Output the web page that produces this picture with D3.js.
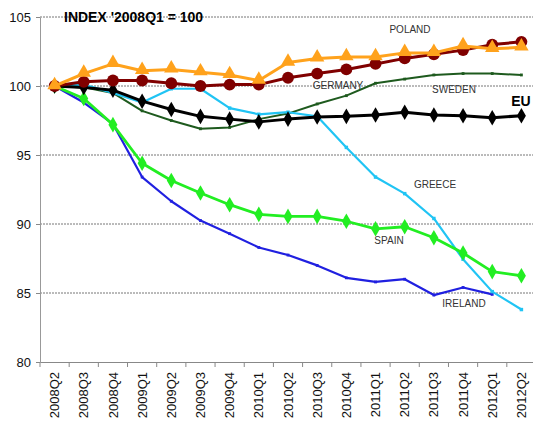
<!DOCTYPE html>
<html>
<head>
<meta charset="utf-8">
<script src="https://cdn.jsdelivr.net/npm/d3@7"></script>
<style>
  body { margin: 0; background: #fff; }
  text { font-family: Arial, "Liberation Sans", sans-serif; }
</style>
</head>
<body>
<svg id="chart" width="533" height="422"></svg>
<script>
// quarters on the x axis
var quarters = ["2008Q2","2008Q3","2008Q4","2009Q1","2009Q2","2009Q3","2009Q4","2010Q1",
  "2010Q2","2010Q3","2010Q4","2011Q1","2011Q2","2011Q3","2011Q4","2012Q1","2012Q2"];
var yTicks = [80, 85, 90, 95, 100, 105];

// index values, 2008Q1 = 100
var poland  = [100, 100.9, 101.6, 101.1, 101.2, 101.0, 100.8, 100.4, 101.7, 102.0, 102.1, 102.1, 102.4, 102.4, 102.9, 102.7, 102.8];
var germany = [100, 100.3, 100.4, 100.4, 100.2, 100.0, 100.1, 100.1, 100.6, 100.9, 101.2, 101.6, 102.0, 102.3, 102.6, 103.0, 103.2];
var sweden  = [100, 99.9, 99.5, 98.2, 97.5, 96.9, 97.0, 97.6, 98.0, 98.7, 99.3, 100.2, 100.5, 100.8, 100.9, 100.9, 100.8];
var eu      = [100, 99.9, 99.7, 98.9, 98.3, 97.8, 97.6, 97.4, 97.6, 97.75, 97.8, 97.9, 98.1, 97.9, 97.85, 97.7, 97.85];
var greece  = [100, 100.1, 99.5, 98.8, 99.8, 99.8, 98.4, 97.95, 98.1, 97.8, 95.55, 93.4, 92.2, 90.4, 87.45, 85.1, 83.8];
var spain   = [100, 99.1, 97.2, 94.4, 93.15, 92.25, 91.4, 90.7, 90.55, 90.55, 90.2, 89.65, 89.8, 89.0, 87.9, 86.55, 86.25];
var ireland = [100, 98.8, 97.25, 93.4, 91.65, 90.25, 89.3, 88.3, 87.75, 87.0, 86.1, 85.8, 86.0, 84.85, 85.4, 84.9, null];

var series = [
  { name: "sweden",  values: sweden,  color: "#1e5a1e", width: 2,   marker: "dash" },
  { name: "ireland", values: ireland, color: "#2020e0", width: 2.2, marker: "dash" },
  { name: "greece",  values: greece,  color: "#20c4f4", width: 2.2, marker: "square" },
  { name: "spain",   values: spain,   color: "#22ee22", width: 2.8, marker: "diamond" },
  { name: "eu",      values: eu,      color: "#000000", width: 3,   marker: "diamond" },
  { name: "germany", values: germany, color: "#800000", width: 3,   marker: "circle" },
  { name: "poland",  values: poland,  color: "#ffa21c", width: 3,   marker: "triangle" }
];

var labels = [
  { text: "POLAND",  x: 410, y: 33 },
  { text: "GERMANY", x: 338, y: 89 },
  { text: "SWEDEN",  x: 454, y: 93 },
  { text: "GREECE",  x: 435, y: 188 },
  { text: "SPAIN",   x: 389, y: 244 },
  { text: "IRELAND", x: 464, y: 307 }
];

var svg = d3.select("#chart");
var margin = { top: 17, left: 40 },
    w = 496, h = 345;

var x = d3.scaleBand().domain(quarters).range([margin.left, margin.left + w]);
var y = d3.scaleLinear().domain([80, 105]).range([margin.top + h, margin.top]);

// grid lines
svg.append("g").selectAll("line")
  .data(yTicks.filter(function(d) { return d > 80; }))
  .enter().append("line")
  .attr("x1", margin.left).attr("x2", margin.left + w)
  .attr("y1", function(d) { return y(d); }).attr("y2", function(d) { return y(d); })
  .attr("stroke", "#777").attr("stroke-width", 1).attr("stroke-dasharray", "2,1");

// y axis
var yAxis = svg.append("g")
  .attr("transform", "translate(" + margin.left + ",0)")
  .call(d3.axisLeft(y).tickValues(yTicks).tickSize(4).tickSizeOuter(0).tickPadding(5));
yAxis.select(".domain").attr("stroke", "#999");
yAxis.selectAll(".tick line").attr("stroke", "#888");
yAxis.selectAll("text").attr("font-size", 13).attr("fill", "#111");

// x axis
var xAxis = svg.append("g")
  .attr("transform", "translate(0," + (margin.top + h) + ")")
  .call(d3.axisBottom(x).tickSize(0).tickSizeOuter(0));
xAxis.select(".domain").attr("stroke", "#888");
xAxis.selectAll("text")
  .attr("font-size", 13).attr("fill", "#111")
  .attr("transform", "rotate(-90)")
  .attr("text-anchor", "end")
  .attr("x", -10).attr("y", 0).attr("dy", "0.35em");
xAxis.selectAll(".sep")
  .data(quarters.concat([null]))
  .enter().append("line")
  .attr("class", "sep")
  .attr("x1", function(d, i) { return margin.left + i * x.bandwidth(); })
  .attr("x2", function(d, i) { return margin.left + i * x.bandwidth(); })
  .attr("y1", 0).attr("y2", 5)
  .attr("stroke", "#888");

var line = d3.line()
  .defined(function(d) { return d != null; })
  .x(function(d, i) { return x(quarters[i]) + x.bandwidth() / 2; })
  .y(function(d) { return y(d); });

var symbols = {
  triangle: d3.symbol().type(d3.symbolTriangle).size(90),
  circle: d3.symbol().type(d3.symbolCircle).size(110),
  diamond: d3.symbol().type(d3.symbolDiamond).size(70),
  square: d3.symbol().type(d3.symbolSquare).size(12),
  dash: d3.symbol().type(d3.symbolSquare).size(8)
};

series.forEach(function(s) {
  var g = svg.append("g");
  g.append("path")
    .attr("d", line(s.values))
    .attr("fill", "none")
    .attr("stroke", s.color)
    .attr("stroke-width", s.width)
    .attr("stroke-linejoin", "round");
  g.selectAll("path.pt")
    .data(s.values.map(function(v, i) { return { v: v, i: i }; }).filter(function(d) { return d.v != null; }))
    .enter().append("path")
    .attr("class", "pt")
    .attr("d", symbols[s.marker]())
    .attr("transform", function(d) {
      var dy = s.marker === "triangle" ? -1 : 0;
      return "translate(" + (x(quarters[d.i]) + x.bandwidth() / 2) + "," + (y(d.v) + dy) + ")";
    })
    .attr("fill", s.color);
});

// labels
svg.selectAll("text.lab")
  .data(labels)
  .enter().append("text")
  .attr("class", "lab")
  .attr("x", function(d) { return d.x; })
  .attr("y", function(d) { return d.y; })
  .attr("text-anchor", "middle")
  .attr("font-size", 10)
  .attr("fill", "#333")
  .text(function(d) { return d.text; });

svg.append("text")
  .attr("x", 521).attr("y", 106)
  .attr("text-anchor", "middle")
  .attr("font-size", 14).attr("font-weight", "bold")
  .text("EU");

svg.append("text")
  .attr("x", 64).attr("y", 22)
  .attr("font-size", 14).attr("font-weight", "bold")
  .text("INDEX '2008Q1 = 100");
</script>
</body>
</html>
